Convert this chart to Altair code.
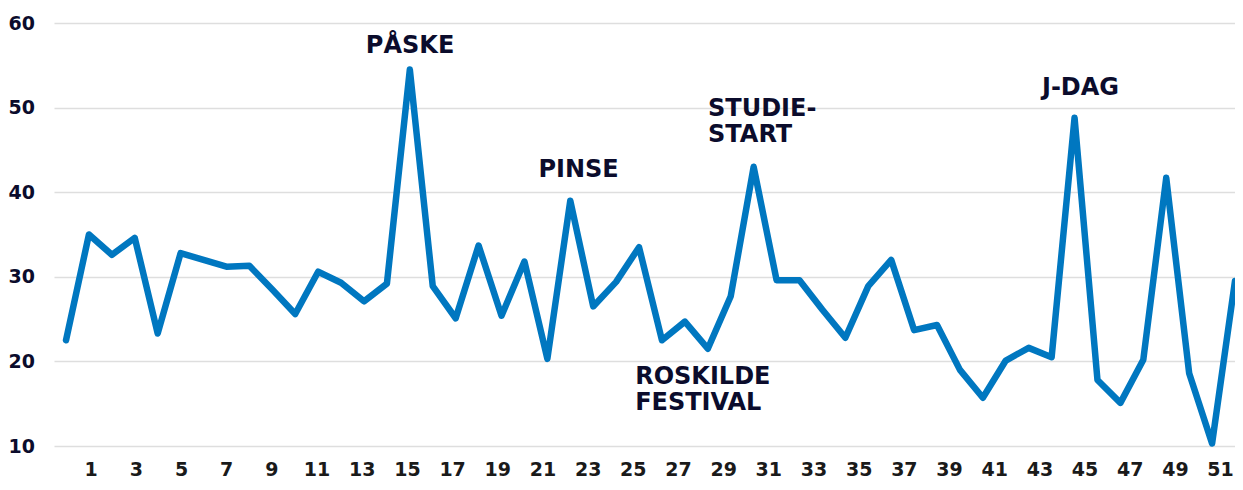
import altair as alt
import pandas as pd

# Week index of each data point and the value for that week
weeks = list(range(1, 53))
values = [22.5, 35.0, 32.6, 34.6, 23.3, 32.8, 32.0, 31.2, 31.3, 28.5,
          25.6, 30.6, 29.3, 27.1, 29.2, 54.5, 28.9, 25.1, 33.7, 25.4,
          31.8, 20.3, 39.0, 26.5, 29.4, 33.5, 22.5, 24.7, 21.5, 27.7,
          43.0, 29.6, 29.6, 26.1, 22.8, 28.9, 32.0, 23.7, 24.3, 19.0,
          15.7, 20.1, 21.6, 20.5, 48.8, 17.8, 15.1, 20.2, 41.7, 18.6,
          10.3, 29.5]

# x-axis tick labels
tick_weeks = list(range(1, 52, 2))

# y-axis ticks
y_ticks = [10, 20, 30, 40, 50, 60]

# Annotations (text, position in week / value units, alignment)
ann_text = ["PÅSKE", "PINSE", "STUDIE-", "START", "ROSKILDE", "FESTIVAL", "J-DAG"]
ann_week = [16.01, 23.36, 29.01, 29.01, 25.83, 25.83, 45.26]
ann_value = [56.4, 41.75, 48.97, 45.9, 17.36, 14.29, 51.5]
ann_align = ["center", "center", "left", "left", "left", "left", "center"]

FONT = "DejaVu Sans"
NAVY = "#0b0c2c"
BLUE = "#0077c0"

line_df = pd.DataFrame({"uge": weeks, "værdi": values})
tick_df = pd.DataFrame({"uge": tick_weeks})
ann_df = pd.DataFrame({"tekst": ann_text, "uge": ann_week, "værdi": ann_value, "align": ann_align})

data_x = alt.Scale(domain=[0.476, 52.0], nice=False, zero=False)
y_scale = alt.Scale(domain=[10, 60], nice=False, zero=False)

line = alt.Chart(line_df).mark_line(
    color=BLUE, strokeWidth=6.5, strokeJoin="round", strokeCap="round"
).encode(
    x=alt.X("uge:Q", scale=data_x, axis=None),
    y=alt.Y("værdi:Q", scale=y_scale, axis=alt.Axis(
        values=y_ticks, title=None, grid=True, gridColor="#dedede", gridWidth=1.5,
        ticks=False, domain=False, labelAlign="left", labelPadding=46,
        labelFont=FONT, labelFontSize=19, labelFontWeight="bold", labelColor=NAVY,
        labelBaseline="middle"
    )),
)

def ann_layer(align):
    sub = ann_df[ann_df["align"] == align]
    return alt.Chart(sub).mark_text(
        font=FONT, fontSize=24, fontWeight="bold", color=NAVY, align=align,
        baseline="alphabetic"
    ).encode(
        x=alt.X("uge:Q", scale=data_x, axis=None),
        y=alt.Y("værdi:Q", scale=y_scale),
        text="tekst:N",
    )

ticks = alt.Chart(tick_df).mark_point(opacity=0).encode(
    x=alt.X("uge:Q", scale=alt.Scale(domain=[-0.625, 51.66], nice=False, zero=False),
            axis=alt.Axis(values=tick_weeks, orient="bottom", title=None, grid=False,
                          ticks=False, domain=False, labelPadding=29,
                          labelBaseline="alphabetic", labelFont=FONT,
                          labelFontSize=19, labelFontWeight="bold", labelColor="#1a1a1a",
                          labelFlush=False)),
    y=alt.value(0),
)

chart = alt.layer(line, ann_layer("center"), ann_layer("left"), ticks).resolve_scale(
    x="independent"
).properties(
    width=1181, height=423,
    autosize=alt.AutoSizeParams(type="none"),
    padding={"left": 46, "top": 15, "right": 0, "bottom": 36},
    background="white",
).configure_view(stroke=None)

chart.save("out.html", embed_options={"renderer": "svg", "actions": False})
